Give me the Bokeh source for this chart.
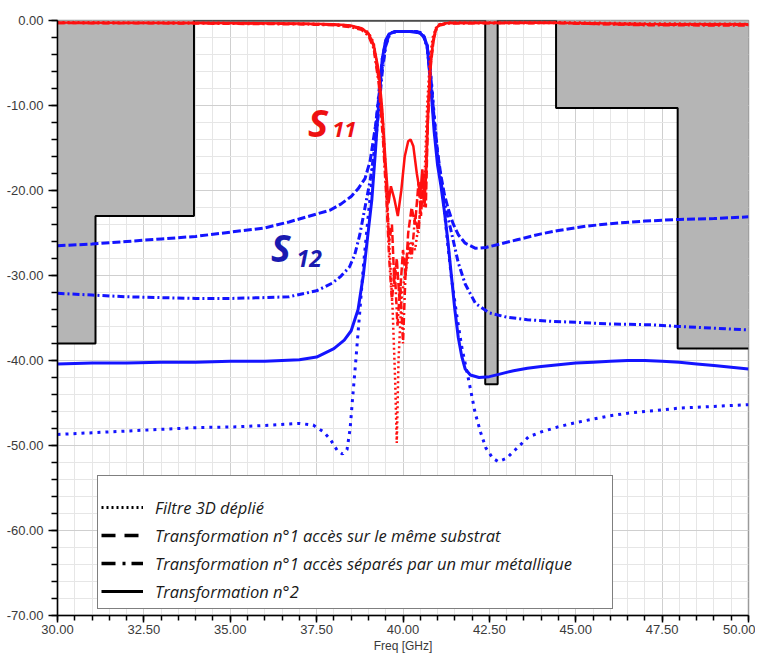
from bokeh.plotting import figure
from bokeh.models import (FixedTicker, PrintfTickFormatter, Legend, LegendItem,
                          Label, Range1d)
from bokeh.embed import file_html
from bokeh.resources import INLINE

# ---------------- data ----------------
x_major = [30.0, 32.5, 35.0, 37.5, 40.0, 42.5, 45.0, 47.5, 50.0]
x_minor = [30 + 0.5 * i for i in range(41)]
y_major = [-70, -60, -50, -40, -30, -20, -10, 0]
y_minor = [-70 + 2 * i for i in range(36)]

# template (mask)
mask_f = [30, 31.1, 31.1, 33.95, 33.95, 42.38, 42.38, 42.74, 42.74, 44.43, 44.43, 47.95, 47.95, 50]
mask_db = [-38, -38, -23, -23, 0, 0, -42.8, -42.8, 0, 0, -10.3, -10.3, -38.6, -38.6]

# S12 - Transformation n°2 (solid)
s12_t2_f = [30, 31, 32, 33, 34, 35, 36, 37, 37.5, 38.0, 38.3, 38.5, 38.7, 38.85, 39.0, 39.1,
            39.2, 39.3, 39.4, 39.5, 39.6, 39.7, 39.8, 40.0, 40.2, 40.4, 40.5, 40.6, 40.7, 40.8,
            40.9, 41.0, 41.1, 41.2, 41.3, 41.4, 41.5, 41.6, 41.7, 41.8, 41.95, 42.2, 42.5,
            42.8, 43.2, 43.6, 44.0, 44.5, 45.0, 45.5, 46.0, 46.5, 47.0, 47.5, 48.0, 48.5,
            49.0, 49.5, 50.0]
s12_t2_db = [-40.4, -40.3, -40.3, -40.2, -40.2, -40.1, -40.1, -39.9, -39.6, -38.6, -37.6,
             -36.5, -34.0, -30.0, -24.6, -21.0, -15.5, -9.5, -4.5, -2.3, -1.6, -1.4, -1.3,
             -1.3, -1.3, -1.4, -1.5, -1.9, -3.0, -7.5, -13.0, -17.0, -19.5, -22.5, -26.0,
             -30.0, -34.0, -37.3, -39.5, -41.0, -41.7, -42.0, -41.9, -41.6, -41.2, -40.9,
             -40.7, -40.5, -40.3, -40.2, -40.1, -40.0, -40.0, -40.1, -40.2, -40.4, -40.6,
             -40.8, -41.0]

# S12 - Transformation n°1 same substrate (dashed)
s12_t1s_f = [30, 31, 32, 33, 34, 35, 36, 36.7, 37.3, 37.9, 38.2, 38.5, 38.7, 38.9, 39.05,
             39.2, 39.3, 39.4, 39.5, 39.6, 39.7, 39.8, 40.0, 40.2, 40.4, 40.5, 40.6, 40.7,
             40.8, 40.9, 41.0, 41.1, 41.2, 41.32, 41.45, 41.6, 41.8, 42.1, 42.4, 42.8, 43.3,
             43.6, 44.0, 44.5, 45.3, 46.0, 47.0, 48.0, 49.0, 50.0]
s12_t1s_db = [-26.5, -26.3, -26.0, -25.7, -25.4, -24.9, -24.4, -23.7, -23.0, -22.3, -21.6,
              -20.7, -19.8, -18.6, -16.5, -12.5, -9.0, -5.5, -2.8, -1.7, -1.4, -1.3, -1.3,
              -1.3, -1.3, -1.5, -1.8, -3.0, -6.5, -11.5, -15.5, -18.3, -20.5, -22.3, -23.9,
              -25.2, -26.2, -26.8, -26.7, -26.3, -25.8, -25.5, -25.1, -24.7, -24.2, -23.9,
              -23.6, -23.4, -23.3, -23.1]

# S12 - Transformation n°1 metal wall (dash-dot)
s12_t1m_f = [30, 31, 32, 33, 34, 35, 36, 36.7, 37.5, 37.95, 38.2, 38.45, 38.6, 38.75, 38.9,
             39.05, 39.2, 39.3, 39.4, 39.5, 39.6, 39.7, 39.8, 40.0, 40.2, 40.4, 40.5, 40.6,
             40.7, 40.8, 40.9, 41.0, 41.1, 41.2, 41.32, 41.45, 41.6, 41.8, 42.1, 42.5, 43.0,
             43.6, 44.3, 45.0, 46.0, 47.2, 48.0, 49.0, 50.0]
s12_t1m_db = [-32.1, -32.3, -32.5, -32.6, -32.7, -32.7, -32.6, -32.5, -31.8, -30.9, -30.1,
              -29.0, -27.6, -25.2, -22.0, -18.8, -14.5, -10.5, -6.0, -3.0, -1.8, -1.4, -1.3,
              -1.3, -1.3, -1.3, -1.5, -1.9, -3.2, -7.0, -12.0, -16.0, -19.0, -21.5, -23.5,
              -25.8, -28.5, -31.0, -33.3, -34.4, -34.9, -35.2, -35.4, -35.5, -35.7, -35.8,
              -36.0, -36.2, -36.4]

# S12 - Filtre 3D déplié (dotted)
s12_3d_f = [30, 31, 32, 33, 34, 35.2, 36.2, 37.0, 37.4, 37.7, 37.9, 38.1, 38.25, 38.38,
            38.47, 38.55, 38.62, 38.76, 38.86, 39.0, 39.1, 39.2, 39.3, 39.4, 39.5, 39.6,
            39.7, 39.8, 40.0, 40.2, 40.4, 40.5, 40.6, 40.7, 40.8, 40.9, 41.0, 41.1, 41.2,
            41.3, 41.41, 41.55, 41.7, 41.9, 42.09, 42.25, 42.4, 42.6, 42.76, 43.0, 43.25,
            43.63, 44.0, 44.5, 45.0, 45.5, 46.0, 46.5, 47.0, 47.5, 48.0, 48.5, 49.0, 49.5, 50.0]
s12_3d_db = [-48.7, -48.5, -48.3, -48.1, -47.9, -47.8, -47.6, -47.4, -47.6, -48.4, -49.3,
             -50.6, -51.0, -50.5, -48.0, -44.0, -40.7, -33.7, -28.6, -22.7, -18.8, -13.5,
             -8.5, -4.5, -2.4, -1.6, -1.4, -1.3, -1.3, -1.3, -1.3, -1.4, -1.8, -2.9, -6.0,
             -11.0, -15.5, -19.0, -22.5, -26.5, -30.5, -34.5, -38.4, -42.3, -46.2, -48.5,
             -50.3, -51.5, -51.9, -51.5, -50.5, -49.0, -48.4, -47.8, -47.3, -46.9, -46.5,
             -46.2, -46.0, -45.8, -45.6, -45.5, -45.4, -45.3, -45.2]

# S11 curves
s11_t2_f = [30, 34, 37, 38.0, 38.5, 38.8, 39.0, 39.15, 39.3, 39.4, 39.5, 39.58, 39.65, 39.75,
            39.85, 39.95, 40.05, 40.15, 40.22, 40.3, 40.4, 40.5, 40.56, 40.62, 40.67, 40.73,
            40.8, 40.88, 40.95, 41.05, 41.3, 44.4, 47, 50]
s11_t2_db = [-0.25, -0.3, -0.35, -0.45, -0.6, -0.9, -1.5, -2.8, -6.0, -10.5, -17.0, -21.5,
             -19.5, -21.0, -23.0, -20.0, -16.0, -14.2, -14.0, -14.8, -18.0, -20.5, -17.5,
             -21.5, -18.0, -10.0, -5.0, -2.2, -1.0, -0.5, -0.3, -0.25, -0.4, -0.45]

s11_t1s_f = [30, 34, 37, 38.0, 38.5, 38.8, 39.0, 39.15, 39.3, 39.42, 39.52, 39.6, 39.68,
             39.75, 39.82, 39.9, 40.0, 40.08, 40.15, 40.25, 40.35, 40.45, 40.52, 40.6, 40.66,
             40.72, 40.8, 40.88, 40.95, 41.05, 41.3, 44.4, 47, 50]
s11_t1s_db = [-0.3, -0.3, -0.4, -0.5, -0.7, -1.0, -1.6, -3.0, -7.0, -13.0, -20.0, -26.0,
              -24.0, -31.0, -28.0, -33.0, -27.0, -30.0, -25.0, -22.0, -24.0, -19.0, -23.0,
              -18.0, -22.0, -12.0, -5.5, -2.5, -1.1, -0.5, -0.3, -0.3, -0.5, -0.5]

s11_t1m_f = [30, 34, 37, 38.0, 38.5, 38.8, 39.0, 39.15, 39.3, 39.42, 39.52, 39.6, 39.68,
             39.76, 39.84, 39.92, 40.0, 40.08, 40.16, 40.25, 40.35, 40.45, 40.55, 40.62,
             40.7, 40.78, 40.86, 40.95, 41.05, 41.3, 44.4, 47, 50]
s11_t1m_db = [-0.3, -0.35, -0.45, -0.55, -0.8, -1.1, -1.8, -3.3, -7.5, -14.0, -21.0, -28.0,
              -33.0, -29.0, -36.0, -31.0, -38.0, -29.0, -26.0, -28.0, -23.0, -25.0, -19.0,
              -22.0, -13.0, -6.0, -2.8, -1.2, -0.6, -0.35, -0.3, -0.55, -0.6]

s11_3d_f = [30, 34, 37, 38.0, 38.5, 38.8, 39.0, 39.15, 39.3, 39.42, 39.52, 39.6, 39.7,
            39.77, 39.82, 39.87, 39.95, 40.05, 40.15, 40.25, 40.35, 40.45, 40.55, 40.63,
            40.7, 40.78, 40.86, 40.95, 41.05, 41.3, 44.4, 47, 50]
s11_3d_db = [-0.2, -0.25, -0.35, -0.45, -0.6, -0.9, -1.4, -2.6, -6.5, -12.0, -19.0, -26.0,
             -34.0, -42.0, -49.7, -40.0, -33.0, -30.0, -28.0, -26.0, -27.0, -24.0, -21.0,
             -18.0, -10.0, -4.5, -2.0, -0.9, -0.45, -0.25, -0.2, -0.35, -0.4]

legend_labels = ["Filtre 3D déplié",
                 "Transformation n°1 accès sur le même substrat",
                 "Transformation n°1 accès séparés par un mur métallique",
                 "Transformation n°2"]

# ---------------- figure ----------------
BLUE = "#1414ff"
RED = "#ff1010"
DOT = "3 5"
DASH = "8 3"
DASHDOT = "7 3 2 3"
NAN = float("nan")

p = figure(width=755, height=655, output_backend="svg", toolbar_location=None,
           x_range=Range1d(30, 50), y_range=Range1d(-70, 0),
           min_border_left=57, min_border_right=7, min_border_top=20, min_border_bottom=40)

p.background_fill_color = "white"
p.outline_line_color = "#9a9a9a"
p.outline_line_width = 1.5

xt = FixedTicker(ticks=x_major, minor_ticks=x_minor)
yt = FixedTicker(ticks=y_major, minor_ticks=y_minor)
p.xaxis.ticker = xt
p.yaxis.ticker = yt
p.xgrid.ticker = xt
p.ygrid.ticker = yt
for g in (p.xgrid, p.ygrid):
    g.grid_line_color = "#cfcfcf"
    g.grid_line_width = 1
    g.minor_grid_line_color = "#e6e6e6"
    g.minor_grid_line_width = 1

p.xaxis.formatter = PrintfTickFormatter(format="%.2f")
p.yaxis.formatter = PrintfTickFormatter(format="%.2f")
for ax in (p.xaxis, p.yaxis):
    ax.axis_line_color = "black"
    ax.axis_line_width = 1.5
    ax.major_tick_line_color = "black"
    ax.minor_tick_line_color = "black"
    ax.major_tick_line_width = 1.5
    ax.minor_tick_line_width = 1.5
    ax.major_tick_in = 0
    ax.minor_tick_in = 0
    ax.major_label_text_font = "Liberation Sans"
    ax.major_label_text_font_size = "13px"
    ax.major_label_text_color = "#3a3a3a"
p.yaxis.major_tick_out = 9
p.yaxis.minor_tick_out = 6
p.yaxis.major_label_standoff = 5
p.xaxis.major_tick_out = 7
p.xaxis.minor_tick_out = 5
p.xaxis.major_label_standoff = 2
p.xaxis.axis_label = "Freq [GHz]"
p.xaxis.axis_label_standoff = 2
p.xaxis.axis_label_text_font = "Liberation Sans"
p.xaxis.axis_label_text_font_size = "12px"
p.xaxis.axis_label_text_font_style = "normal"
p.xaxis.axis_label_text_color = "#3a3a3a"

# mask
p.varea(x=mask_f, y1=mask_db, y2=[0] * len(mask_f), fill_color="#b5b5b5", fill_alpha=1)
p.line(mask_f, mask_db, line_color="black", line_width=2)

# S12 curves
p.line(s12_3d_f, s12_3d_db, line_color=BLUE, line_width=3, line_dash=DOT)
p.line(s12_t1s_f, s12_t1s_db, line_color=BLUE, line_width=3, line_dash=DASH)
p.line(s12_t1m_f, s12_t1m_db, line_color=BLUE, line_width=3, line_dash=DASHDOT)
p.line(s12_t2_f, s12_t2_db, line_color=BLUE, line_width=3)

# S11 curves
p.line(s11_3d_f, s11_3d_db, line_color=RED, line_width=2.5, line_dash="2 3")
p.line(s11_t1s_f, s11_t1s_db, line_color=RED, line_width=2.5, line_dash=DASH)
p.line(s11_t1m_f, s11_t1m_db, line_color=RED, line_width=2.5, line_dash=DASHDOT)
p.line(s11_t2_f, s11_t2_db, line_color=RED, line_width=2.5)

# S labels
def add_s(x, y, sx, sy, sub, color, size, subsize):
    p.add_layout(Label(x=x, y=y, text="S", text_font="Open Sans", text_font_style="bold italic",
                       text_font_size=size, text_color=color))
    p.add_layout(Label(x=sx, y=sy, text=sub, text_font="Open Sans", text_font_style="bold italic",
                       text_font_size=subsize, text_color=color))

add_s(37.25, -15.0, 37.95, -13.65, "11", "#ee1111", "38px", "22px")
add_s(36.18, -29.7, 36.92, -29.0, "12", "#1a1ab0", "37px", "23px")

# legend (black samples, no visible data)
r1 = p.line([NAN], [NAN], line_color="black", line_width=3, line_dash="2 3")
r2 = p.line([NAN], [NAN], line_color="black", line_width=3.5, line_dash="14 9")
r3 = p.line([NAN], [NAN], line_color="black", line_width=3.5, line_dash="14 7 3 6")
r4 = p.line([NAN], [NAN], line_color="black", line_width=3)
legend = Legend(items=[LegendItem(label=l, renderers=[r]) for l, r in zip(legend_labels, [r1, r2, r3, r4])],
                location=(40, 6), orientation="vertical")
legend.title = " "
legend.title_text_font_size = "12px"
legend.title_standoff = 0
legend.border_line_color = "black"
legend.border_line_width = 1
legend.background_fill_color = "white"
legend.background_fill_alpha = 1
legend.label_text_font = "Open Sans"
legend.label_text_font_style = "italic"
legend.label_text_font_size = "16.5px"
legend.label_text_color = "#1a1a1a"
legend.glyph_width = 42
legend.glyph_height = 20
legend.label_height = 28
legend.spacing = 0
legend.padding = 3
legend.margin = 0
legend.label_standoff = 12
legend.label_width = 454
p.add_layout(legend)

open("out.html", "w").write(file_html(p, INLINE))
